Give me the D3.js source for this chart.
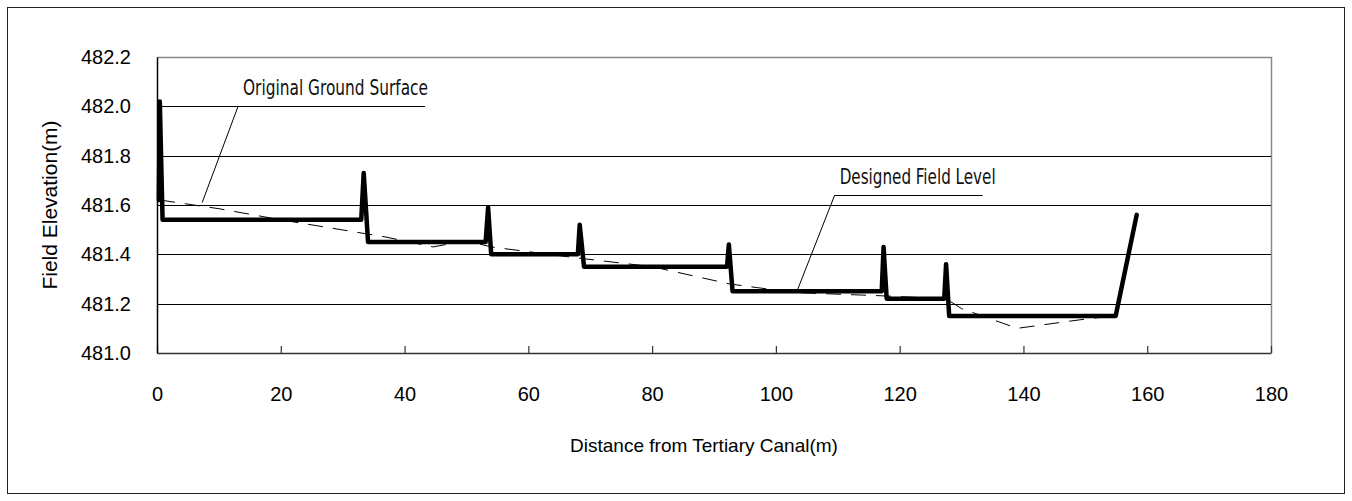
<!DOCTYPE html>
<html>
<head>
<meta charset="utf-8">
<script src="https://cdn.jsdelivr.net/npm/d3@7"></script>
<style>
  html, body { margin: 0; padding: 0; background: #fff; }
  svg { display: block; }
</style>
</head>
<body>
<svg id="chart" width="1352" height="501"></svg>
<script>
// ---------- data ----------
const xTicks = [0, 20, 40, 60, 80, 100, 120, 140, 160, 180];
const yTicks = [481.0, 481.2, 481.4, 481.6, 481.8, 482.0, 482.2];
const gridValues = [481.2, 481.4, 481.6, 481.8];

// Designed field level (thick line)
const designedDist = [0.3, 0.45, 0.9, 33.0, 33.4, 34.1, 53.1, 53.5, 54.0, 68.0, 68.3, 69.0, 92.1, 92.4, 93.0, 117.1, 117.4, 117.9, 127.2, 127.5, 128.0, 154.9, 158.3];
const designedElev = [481.62, 482.02, 481.54, 481.54, 481.73, 481.45, 481.45, 481.59, 481.40, 481.40, 481.52, 481.35, 481.35, 481.44, 481.25, 481.25, 481.43, 481.22, 481.22, 481.36, 481.15, 481.15, 481.56];

// Original ground surface (dashed line)
const groundDist = [0.5, 10, 20, 37, 44.6, 50, 54, 68, 80, 92.5, 97, 103, 117, 127.5, 130, 139, 150.7, 155];
const groundElev = [481.62, 481.585, 481.54, 481.47, 481.43, 481.455, 481.43, 481.385, 481.35, 481.28, 481.265, 481.245, 481.232, 481.22, 481.18, 481.10, 481.14, 481.15];

// Annotations (data units)
const annoLabels = ["Original Ground Surface", "Designed Field Level"];
const annoTextX = [13.9, 110.3];
const annoTextY = [482.047, 481.686];
const annoTextLen = [185, 156];
const annoLineStartX = [0, 109.5];
const annoLineEndX = [43.3, 133.4];
const annoLineY = [482.0, 481.64];
const annoLeaderTopX = [13.1, 109.5];
const annoPointX = [7.3, 103.4];
const annoPointY = [481.61, 481.25];

const xTitle = "Distance from Tertiary Canal(m)";
const yTitle = "Field Elevation(m)";

// ---------- chart ----------
const svg = d3.select("#chart");
const x = d3.scaleLinear().domain([0, 180]).range([157, 1271]);
const y = d3.scaleLinear().domain([481.0, 482.2]).range([353, 57]);

// outer border
svg.append("rect")
  .attr("x", 7.5).attr("y", 7.5).attr("width", 1337).attr("height", 486)
  .attr("fill", "none").attr("stroke", "#222").attr("stroke-width", 1);

// plot frame top & right (grey)
svg.append("path")
  .attr("d", `M${x(0)},${Math.round(y(482.2)) + 0.5}H${Math.round(x(180)) + 0.5}V${y(481.0)}`)
  .attr("fill", "none").attr("stroke", "#888").attr("stroke-width", 1.5);

// gridlines
svg.append("g").selectAll("line").data(gridValues).join("line")
  .attr("x1", x(0)).attr("x2", x(180))
  .attr("y1", d => Math.round(y(d)) + 0.5).attr("y2", d => Math.round(y(d)) + 0.5)
  .attr("stroke", "#000").attr("stroke-width", 1);

// x axis
const xAxis = d3.axisBottom(x).tickValues(xTicks).tickSize(0).tickPadding(0)
  .tickFormat(d3.format("d"));
const gx = svg.append("g").attr("transform", `translate(0,${y(481.0)})`).call(xAxis);
gx.select(".domain").attr("stroke", "#333").attr("stroke-width", 1.5);
gx.selectAll(".tick text")
  .attr("y", 48).attr("dy", null)
  .attr("font-family", "Liberation Sans, Arial, sans-serif")
  .attr("font-size", 20).attr("fill", "#000");
gx.selectAll(".tick").append("line")
  .attr("y1", 0).attr("y2", -7).attr("stroke", "#333").attr("stroke-width", 1.2);

// y axis
const yAxis = d3.axisLeft(y).tickValues(yTicks).tickSize(0).tickPadding(26)
  .tickFormat(d3.format(".1f"));
const gy = svg.append("g").attr("transform", `translate(${x(0)},0)`).call(yAxis);
gy.select(".domain").attr("stroke", "#000").attr("stroke-width", 1.5);
gy.selectAll(".tick text")
  .attr("font-family", "Liberation Sans, Arial, sans-serif")
  .attr("font-size", 20).attr("fill", "#000");

// axis titles
svg.append("text")
  .attr("x", (x(0) + x(180)) / 2 - 10).attr("y", 452)
  .attr("text-anchor", "middle")
  .attr("font-family", "Liberation Sans, Arial, sans-serif")
  .attr("font-size", 19).attr("fill", "#000")
  .text(xTitle);
svg.append("text")
  .attr("transform", `translate(57,205) rotate(-90)`)
  .attr("text-anchor", "middle")
  .attr("font-family", "Liberation Sans, Arial, sans-serif")
  .attr("font-size", 21).attr("fill", "#000")
  .text(yTitle);

// original ground surface (dashed)
const ground = groundDist.map((d, i) => [d, groundElev[i]]);
svg.append("path")
  .datum(ground)
  .attr("d", d3.line().x(d => x(d[0])).y(d => y(d[1])))
  .attr("fill", "none").attr("stroke", "#000").attr("stroke-width", 1)
  .attr("stroke-dasharray", "15,10");

// designed field level (thick)
const designed = designedDist.map((d, i) => [d, designedElev[i]]);
svg.append("path")
  .datum(designed)
  .attr("d", d3.line().x(d => x(d[0])).y(d => y(d[1])))
  .attr("fill", "none").attr("stroke", "#000").attr("stroke-width", 4.5)
  .attr("stroke-linejoin", "round").attr("stroke-linecap", "round");

// annotations
annoLabels.forEach((lab, i) => {
  const g = svg.append("g");
  g.append("path")
    .attr("d", `M${x(annoPointX[i])},${y(annoPointY[i])}L${x(annoLeaderTopX[i])},${y(annoLineY[i])}`)
    .attr("fill", "none").attr("stroke", "#000").attr("stroke-width", 1);
  g.append("line")
    .attr("x1", x(annoLineStartX[i])).attr("x2", x(annoLineEndX[i]))
    .attr("y1", Math.round(y(annoLineY[i])) + 0.5).attr("y2", Math.round(y(annoLineY[i])) + 0.5)
    .attr("stroke", "#000").attr("stroke-width", 1);
  g.append("text")
    .attr("x", x(annoTextX[i])).attr("y", y(annoTextY[i]))
    .attr("font-family", "Liberation Sans Narrow, DejaVu Sans Condensed, sans-serif")
    .attr("font-size", 22).attr("fill", "#111")
    .attr("textLength", annoTextLen[i]).attr("lengthAdjust", "spacingAndGlyphs")
    .text(lab);
});
</script>
</body>
</html>
